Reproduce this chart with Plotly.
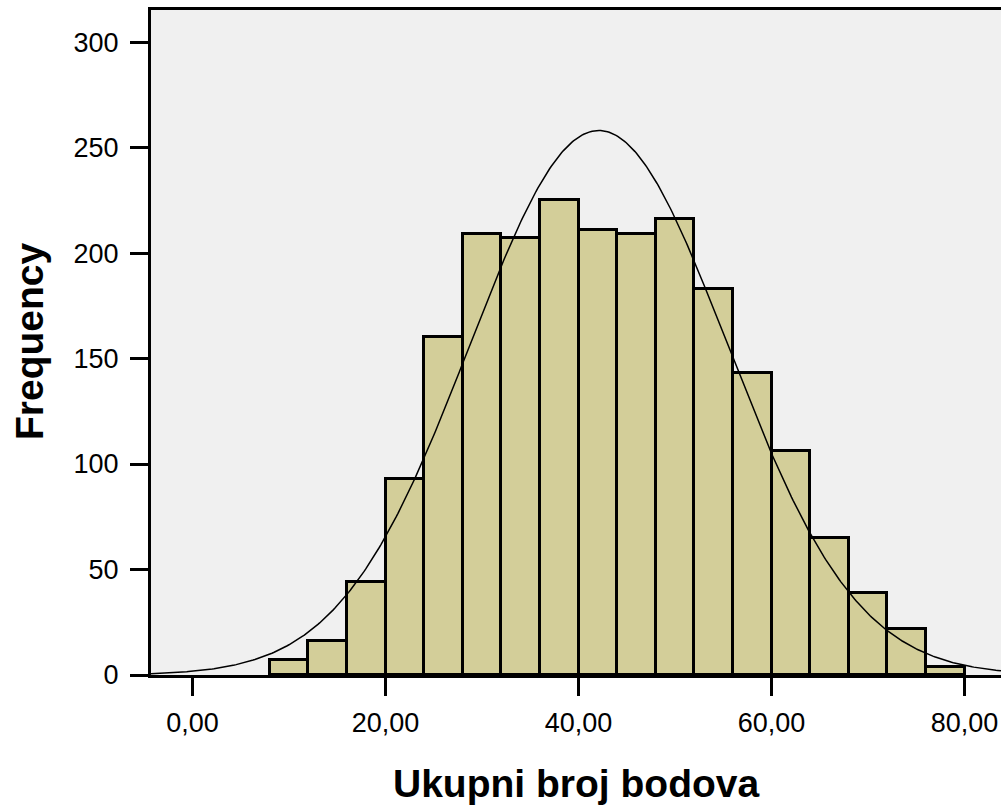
import numpy as np
import plotly.graph_objects as go

# Histogram data (bin lower edges, width 4)
bin_lower = [8, 12, 16, 20, 24, 28, 32, 36, 40, 44, 48, 52, 56, 60, 64, 68, 72, 76]
bin_width = 4
counts = [7, 16, 44, 93, 160, 209, 207, 225, 211, 209, 216, 183, 143, 106, 65, 39, 22, 4]

x_tick_vals = [0, 20, 40, 60, 80]
x_tick_text = ["0,00", "20,00", "40,00", "60,00", "80,00"]
y_tick_vals = [0, 50, 100, 150, 200, 250, 300]
y_tick_text = ["0", "50", "100", "150", "200", "250", "300"]

# Normal curve parameters
curve_mean = 42.1
curve_sd = 13.35

x_range = [-4.3, 83.78]
y_range = [0, 315.2]

centers = [b + bin_width / 2 for b in bin_lower]
n_total = sum(counts)
xs = np.linspace(x_range[0], x_range[1], 500)
ys = n_total * bin_width / (curve_sd * np.sqrt(2 * np.pi)) * np.exp(-0.5 * ((xs - curve_mean) / curve_sd) ** 2)

fig = go.Figure()
fig.add_trace(go.Bar(
    x=centers, y=counts, width=bin_width,
    marker=dict(color="#d3ce99", line=dict(color="black", width=3)),
    hoverinfo="skip",
))
fig.add_trace(go.Scatter(
    x=xs, y=ys, mode="lines",
    line=dict(color="black", width=1.5),
    hoverinfo="skip",
))

tick_font = dict(family="Liberation Sans, Arial, sans-serif", size=27, color="black")
title_font = dict(family="Liberation Sans, Arial, sans-serif", size=39, color="black", weight="bold")

W, H = 1001, 806
L, T, B = 151, 10, 131
plot_h = H - T - B  # 665
plot_w = W - L      # 850

fig.update_layout(
    width=W, height=H,
    margin=dict(l=L, r=0, t=T, b=B),
    paper_bgcolor="white",
    plot_bgcolor="#f0f0f0",
    showlegend=False,
    bargap=0,
    xaxis=dict(
        range=x_range, showgrid=False, zeroline=False,
        showline=True, linecolor="black", linewidth=3, mirror=True,
        ticks="outside", ticklen=18, tickwidth=3, tickcolor="black",
        tickvals=x_tick_vals, ticktext=x_tick_text, tickfont=tick_font,
        ticklabelstandoff=4,
    ),
    yaxis=dict(
        range=y_range, showgrid=False, zeroline=False,
        showline=True, linecolor="black", linewidth=3, mirror=False,
        ticks="outside", ticklen=18, tickwidth=3, tickcolor="black",
        tickvals=y_tick_vals, ticktext=y_tick_text, tickfont=tick_font,
        ticklabelstandoff=6,
    ),
    annotations=[
        dict(text="Ukupni broj bodova", xref="paper", yref="paper",
             x=(576 - L) / plot_w, y=(675 - 783) / plot_h,
             xanchor="center", yanchor="middle", showarrow=False, font=title_font),
        dict(text="Frequency", xref="paper", yref="paper",
             x=(29 - L) / plot_w, y=(675 - 341) / plot_h, textangle=-90,
             xanchor="center", yanchor="middle", showarrow=False, font=title_font),
    ],
)

fig.write_html(
    "out.html",
    config={"displayModeBar": False},
    post_script="document.body.style.margin='0';document.body.style.overflow='hidden';",
)
